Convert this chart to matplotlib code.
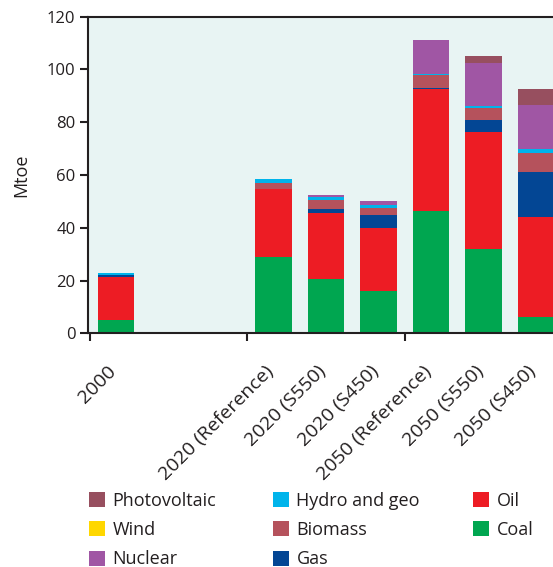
import matplotlib
matplotlib.use('Agg')
import matplotlib.pyplot as plt
import matplotlib.transforms as mtransforms
import numpy as np
from matplotlib.patches import Patch

plt.rcParams['font.family'] = ['Open Sans', 'DejaVu Sans']

scenarios = ['2000', '2020 (Reference)', '2020 (S550)', '2020 (S450)',
             '2050 (Reference)', '2050 (S550)', '2050 (S450)']
slots = [0, 3, 4, 5, 6, 7, 8]

# stacked bottom -> top
coal = [5.0, 28.9, 20.6, 16.0, 46.4, 32.0, 6.2]
oil = [16.3, 25.8, 25.0, 24.0, 46.2, 44.3, 37.9]
gas = [0.8, 0.0, 1.5, 4.9, 0.4, 4.6, 17.1]
biomass = [0.0, 2.3, 3.4, 2.6, 4.9, 4.5, 7.2]
hydro = [0.7, 1.5, 1.2, 1.2, 0.5, 0.8, 1.5]
wind = [0.0, 0.0, 0.0, 0.0, 0.0, 0.0, 0.0]
nuclear = [0.0, 0.0, 0.7, 1.5, 12.8, 16.3, 16.7]
pv = [0.0, 0.0, 0.0, 0.0, 0.0, 2.6, 6.0]

series = [
    ('Coal', coal, '#00a650'),
    ('Oil', oil, '#ed1c24'),
    ('Gas', gas, '#034694'),
    ('Biomass', biomass, '#b5525c'),
    ('Hydro and geo', hydro, '#00b4eb'),
    ('Wind', wind, '#ffd700'),
    ('Nuclear', nuclear, '#a056a4'),
    ('Photovoltaic', pv, '#974f5f'),
]

fig = plt.figure(figsize=(5.53, 5.67), dpi=100)
ax = fig.add_axes([88 / 553, 1 - 333.3 / 567, 1 - 88 / 553, (333.3 - 16.7) / 567])
ax.set_facecolor('#e8f4f3')

bottom = np.zeros(len(slots))
for name, vals, col in series:
    ax.bar(slots, vals, width=0.69, bottom=bottom, color=col, linewidth=0, zorder=2)
    bottom += np.array(vals)

ax.set_xlim(-0.533, 8.324)
ax.set_ylim(0, 120)
ax.set_yticks(range(0, 121, 20))
ax.tick_params(axis='y', labelsize=12, length=6, width=1.5, color='#231f20',
               labelcolor='#231f20', pad=3)

ax.set_xticks([-0.5, 2.5, 5.5])
ax.set_xticklabels([])
ax.tick_params(axis='x', which='major', length=6, width=1.5, color='#231f20')
ax.set_xticks(slots, minor=True)
ax.set_xticklabels(scenarios, minor=True, rotation=45, ha='right', va='top',
                   rotation_mode='anchor', fontsize=14, color='#231f20')
ax.tick_params(axis='x', which='minor', length=0, pad=21)
shift = mtransforms.ScaledTranslation(-9 / 100, 0, fig.dpi_scale_trans)
for lbl in ax.get_xticklabels(minor=True):
    lbl.set_transform(lbl.get_transform() + shift)

for s in ['left', 'bottom', 'top']:
    ax.spines[s].set_linewidth(1.5)
    ax.spines[s].set_color('#231f20')
ax.spines['right'].set_visible(False)

ax.set_ylabel('Mtoe', fontsize=13, labelpad=12, color='#231f20')

cmap = {n: c for n, _, c in series}
columns = [(['Photovoltaic', 'Wind', 'Nuclear'], 89),
           (['Hydro and geo', 'Biomass', 'Gas'], 273),
           (['Oil', 'Coal'], 473)]
for names, xpix in columns:
    handles = [Patch(facecolor=cmap[n], edgecolor='none', label=n) for n in names]
    leg = fig.legend(handles=handles, ncol=1, loc='upper left',
                     bbox_to_anchor=(xpix / 553, 1 - 492 / 567),
                     frameon=False, fontsize=13, handlelength=0.9, handleheight=0.9,
                     handletextpad=0.4, labelspacing=0.62, borderaxespad=0, borderpad=0)
    for t in leg.get_texts():
        t.set_color('#231f20')

fig.savefig('out.png', dpi=100)
